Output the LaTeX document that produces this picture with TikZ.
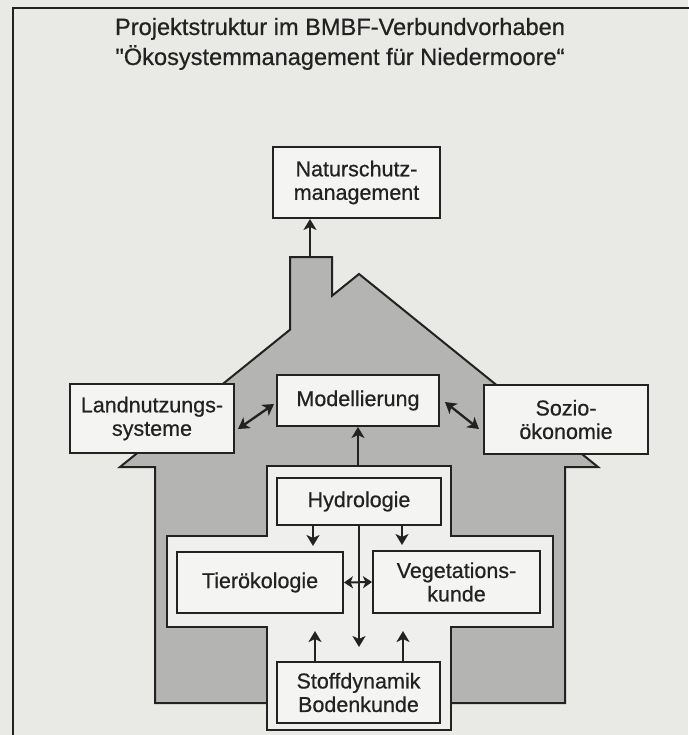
\documentclass[tikz,border=0pt]{standalone}
\usepackage{fontspec}
\setmainfont{Liberation Sans}
\newfontfamily\heavyfont{Liberation Sans}[FakeBold=0.6]
\usetikzlibrary{arrows.meta,calc}
\definecolor{paper}{RGB}{233,233,230}
\definecolor{housegray}{RGB}{180,180,178}
\definecolor{inner}{RGB}{239,239,237}
\definecolor{boxfill}{RGB}{244,244,242}
\definecolor{ink}{RGB}{34,34,34}
\begin{document}
\begin{tikzpicture}[x=1pt,y=-1pt,
  boxnode/.style={draw=ink, line width=2pt, fill=boxfill, text=ink, align=center, inner sep=0pt, font=\heavyfont\fontsize{21.5}{23.5}\selectfont},
  titletext/.style={text=ink, anchor=base, inner sep=0pt, font=\heavyfont\fontsize{23.6}{27}\selectfont},
  arr/.style={draw=ink, line width=2.3pt, -{Stealth[length=11pt,width=13pt,inset=3pt]}},
  arrtwo/.style={draw=ink, line width=2.3pt, {Stealth[length=11pt,width=13pt,inset=3pt]}-{Stealth[length=11pt,width=13pt,inset=3pt]}},
  shortarrtwo/.style={draw=ink, line width=2pt, {Stealth[length=9pt,width=12pt,inset=2.5pt]}-{Stealth[length=9pt,width=12pt,inset=2.5pt]}},
]
\useasboundingbox (0,0) rectangle (688,735);
\fill[paper] (0,0) rectangle (688,735);
% frame (cut at right and bottom)
\draw[ink, line width=2.6pt] (692,8) -- (13,8) -- (13,740);

% title
\node[titletext] (title1) at (340,35) {Projektstruktur im BMBF-Verbundvorhaben};
\node[titletext] (title2) at (340,65) {"Ökosystemmanagement für Niedermoore“};

% house
\filldraw[fill=housegray, draw=ink, line width=2pt, line join=miter]
  (359,274) -- (598,467) -- (565,467) -- (565,703) -- (155,703) -- (155,467)
  -- (120,467) -- (290,329.7) -- (290,257) -- (332,257) -- (332,295.8) -- cycle;

% inner white cross
\filldraw[fill=inner, draw=ink, line width=2pt]
  (267,466) -- (451,466) -- (451,536) -- (553,536) -- (553,627) -- (451,627)
  -- (451,730) -- (267,730) -- (267,627) -- (167,627) -- (167,536) -- (267,536) -- cycle;

\coordinate (chimtop) at (310,257);
\coordinate (wtop) at (358,466);

% boxes
\node[boxnode, minimum width=167pt, minimum height=71pt] (nat) at (356.5,182.5) {Naturschutz-\\management};
\node[boxnode, minimum width=162pt, minimum height=51pt] (model) at (358,400.5) {Modellierung};
\node[boxnode, minimum width=164pt, minimum height=69pt] (land) at (152,418.5) {Landnutzungs-\\systeme};
\node[boxnode, minimum width=164pt, minimum height=69pt] (sozio) at (566,419.5) {Sozio-\\ökonomie};
\node[boxnode, minimum width=164pt, minimum height=47pt] (hydro) at (359,501.5) {Hydrologie};
\node[boxnode, minimum width=166pt, minimum height=61pt] (tier) at (260,582.5) {Tierökologie};
\node[boxnode, minimum width=167pt, minimum height=62pt] (veg) at (456.5,582) {Vegetations-\\kunde};
\node[boxnode, minimum width=163pt, minimum height=61pt] (stoff) at (358.5,692.5) {Stoffdynamik\\Bodenkunde};

% connectors
\draw[arr] (chimtop) -- (chimtop |- nat.south);
\draw[arrtwo] ($(land.east)+(3,10.5)$) -- ($(model.west)+(-2,3.5)$);
\draw[arrtwo] ($(model.east)+(5,1.5)$) -- ($(sozio.west)+(-4,9.5)$);
\draw[arr] (wtop) -- (wtop |- model.south);
\draw[arr] ($(hydro.south)+(-46,0)$) -- ($(tier.north)+(53,-5)$);
\draw[arr] ($(hydro.south)+(43,0)$) -- ($(veg.north)+(-54.5,-5)$);
\draw[arr] (hydro.south) -- ($(hydro.south |- stoff.north)+(0,-14)$);
\draw[arr] ($(stoff.north)+(-43.5,0)$) -- ($(tier.south)+(55,17)$);
\draw[arr] ($(stoff.north)+(44.5,0)$) -- ($(veg.south)+(-53.5,17)$);
\draw[shortarrtwo] (tier.east) -- (veg.west);
\end{tikzpicture}
\end{document}
